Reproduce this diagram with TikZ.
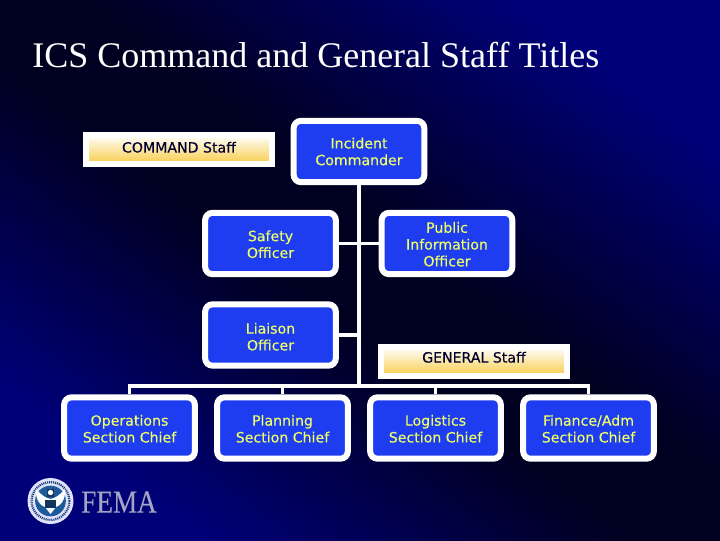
\documentclass[tikz,border=0pt]{standalone}
\usepackage{fontspec}
\setmainfont{DejaVu Sans}
\newfontfamily\serifface{Liberation Serif}
\newfontfamily\femaface[FakeStretch=0.85,FakeBold=0.3]{Liberation Serif}
\newfontfamily\labelface[FakeBold=0.2]{DejaVu Sans}
\definecolor{boxblue}{HTML}{1E3CF0}
\definecolor{labelyellow}{HTML}{EEFF66}
\definecolor{gold}{HTML}{F8CC48}
\definecolor{navyA}{HTML}{000078}
\definecolor{navyB}{HTML}{000020}
\definecolor{bannerink}{HTML}{000030}
\definecolor{femagray}{HTML}{A4A4C4}
\definecolor{sealblue}{HTML}{1E5A9A}
\pgfdeclarehorizontalshading{bgdiag}{100bp}{color(0bp)=(navyA);color(25bp)=(navyA);color(46bp)=(navyB);color(54bp)=(navyB);color(75bp)=(navyA);color(100bp)=(navyA)}
\newcommand\dnA{\rule{0pt}{9.2pt}}
\newcommand\dnB{\rule{0pt}{10.6pt}}
\newcommand\upA{\rule[-6.5pt]{0pt}{6.5pt}}
\newcommand\upB{\rule[-3.5pt]{0pt}{3.5pt}}
\tikzset{
  x=0.75pt,y=-0.75pt,
  role/.style={draw=white,line width=4.5pt,fill=boxblue,rounded corners=5.5pt,minimum width=98pt,minimum height=46pt,inner sep=0pt,align=center,text=labelyellow,font=\labelface\fontsize{10.6}{12.6}\selectfont},
  banner/.style={draw=white,line width=4.5pt,top color=white,bottom color=gold,minimum width=139.5pt,minimum height=21.5pt,inner sep=0pt,text=bannerink,font=\labelface\fontsize{10.6}{12.6}\selectfont},
  conn/.style={draw=white,line width=2.3pt}
}
\begin{document}
\begin{tikzpicture}
\useasboundingbox (0,0) rectangle (720,540);
\shade[shading=bgdiag,shading angle=53] (0,0) rectangle (720,540);
\node[text=white,anchor=west,inner sep=0pt,font=\serifface\fontsize{27}{32}\selectfont] (title) at (32,55) {ICS Command and General Staff Titles};
\node[banner] (cmdstaff) at (179,149.5) {\upB COMMAND Staff};
\node[banner] (genstaff) at (474,361.5) {\upA GENERAL Staff};
\coordinate (bus) at (359,386);
\node[role] (ic) at (359,151.5) {Incident\\Commander};
\node[role] (safety) at (270.5,243.5) {\dnA Safety\\Officer};
\node[role] (pio) at (447,243.5) {\dnA Public\\Information\\Officer};
\node[role] (liaison) at (270.5,335) {\dnB Liaison\\Officer};
\node[role] (ops) at (129.5,428) {\dnA Operations\\Section Chief};
\node[role] (plan) at (282.5,428) {\dnA Planning\\Section Chief};
\node[role] (log) at (435.5,428) {\dnA Logistics\\Section Chief};
\node[role] (fin) at (588.5,428) {\dnA Finance/Adm\\Section Chief};
\draw[conn] (ic.south) -- (bus);
\draw[conn] (safety.east) -- (safety.east -| bus);
\draw[conn] (pio.west) -- (pio.west -| bus);
\draw[conn] (liaison.east) -- (liaison.east -| bus);
\draw[conn] (ops.north) |- (bus);
\draw[conn] (plan.north) |- (bus);
\draw[conn] (log.north) |- (bus);
\draw[conn] (fin.north) |- (bus);
% FEMA seal
\fill[white!88!blue] (50.5,501) circle[radius=17.25pt];
\draw[sealblue!70!black,line width=1.6pt,dash pattern=on 0.8pt off 0.7pt] (50.5,501) circle[radius=14.2pt];
\fill[sealblue] (50.5,501) circle[radius=11.5pt];
\fill[white] (36,489) .. controls (42,496) and (46,498) .. (50.5,499) .. controls (55,498) and (59,496) .. (65,489) .. controls (66,500) and (60,506) .. (56,507) -- (50.5,514) -- (45,507) .. controls (41,506) and (35,500) .. (36,489) -- cycle;
\fill[sealblue!60!black] (47,489) rectangle (54,497);
\fill[white] (50.5,492.5) circle[radius=2pt];
\fill[sealblue!60!black] (45,500) rectangle (56,508);
\node[anchor=west,inner sep=0pt,text=femagray,font=\femaface\fontsize{24}{28}\selectfont] (fema) at (81,502) {FEMA};
\end{tikzpicture}
\end{document}
